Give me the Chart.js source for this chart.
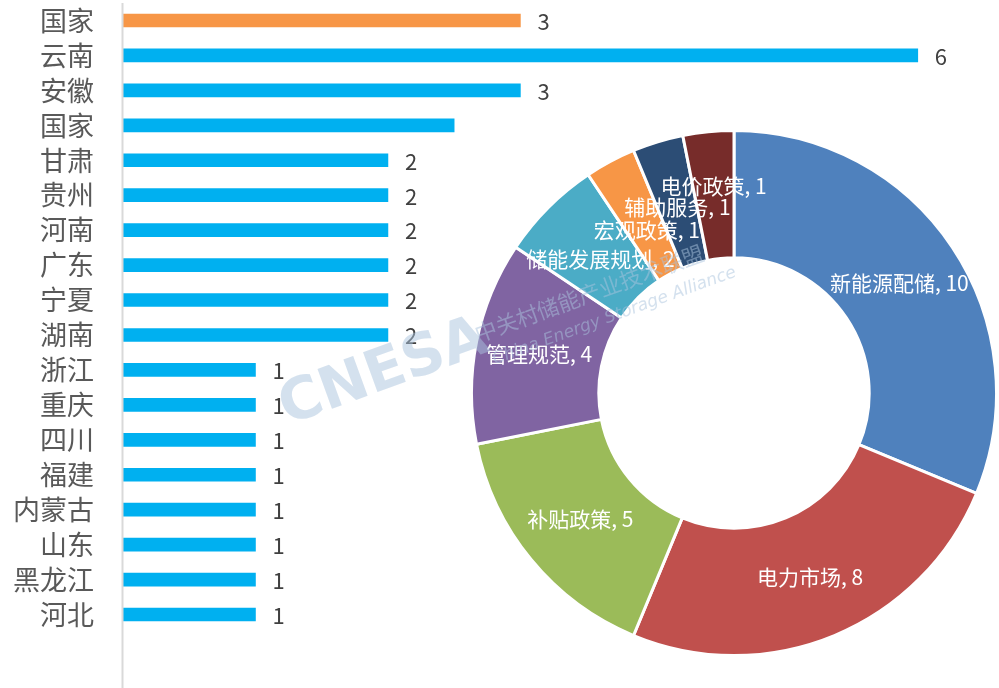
<!DOCTYPE html>
<html lang="zh">
  <head>
    <meta charset="UTF-8">
    <title>储能政策统计</title>
    <script src="https://cdn.jsdelivr.net/npm/chart.js"></script>
    <style>
      body { margin: 0; background: #fff; }
      .wrap { position: relative; width: 999px; height: 688px; }
      .wrap canvas { position: absolute; left: 0; top: 0; }
      #pieChart { pointer-events: none; }
    </style>
  </head>
  <body>
    <div class="wrap">
      <canvas id="barChart" width="999" height="688"></canvas>
      <canvas id="pieChart" width="999" height="688"></canvas>
    </div>
    <script>
      // 各省份政策数量
      const provincias = ['国家', '云南', '安徽', '国家', '甘肃', '贵州', '河南', '广东', '宁夏', '湖南',
                          '浙江', '重庆', '四川', '福建', '内蒙古', '山东', '黑龙江', '河北'];
      const cantidades = [3, 6, 3, 2.5, 2, 2, 2, 2, 2, 2, 1, 1, 1, 1, 1, 1, 1, 1];
      const etiquetas = ['3', '6', '3', '', '2', '2', '2', '2', '2', '2', '1', '1', '1', '1', '1', '1', '1', '1'];

      // 政策类型
      const tipos = ['新能源配储', '电力市场', '补贴政策', '管理规范', '储能发展规划', '宏观政策', '辅助服务', '电价政策'];
      const tiposValores = [10, 8, 5, 4, 2, 1, 1, 1];
      const tiposColores = ['#4F81BD', '#C0504D', '#9BBB59', '#8064A2', '#4BACC6', '#F79646', '#2C4D75', '#772C2A'];

      const fuente = '"Noto Sans CJK SC", "Noto Sans", sans-serif';
      const coloresBarra = cantidades.map((v, i) => i === 0 ? '#F79646' : '#00B0F0');

      const etiquetasBarra = {
        id: 'etiquetasBarra',
        afterDatasetsDraw(chart) {
          const ctx = chart.ctx;
          const meta = chart.getDatasetMeta(0);
          ctx.save();
          ctx.font = '22px ' + fuente;
          ctx.fillStyle = '#404040';
          ctx.textAlign = 'left';
          ctx.textBaseline = 'middle';
          meta.data.forEach((bar, i) => {
            if (etiquetas[i]) ctx.fillText(etiquetas[i], bar.x + 17, bar.y + 1);
          });
          // eje vertical
          ctx.strokeStyle = '#D9D9D9';
          ctx.lineWidth = 2;
          ctx.beginPath();
          ctx.moveTo(chart.chartArea.left - 0.5, 3);
          ctx.lineTo(chart.chartArea.left - 0.5, chart.height);
          ctx.stroke();
          ctx.restore();
        }
      };

      new Chart(document.getElementById('barChart'), {
        type: 'bar',
        data: {
          labels: provincias,
          datasets: [{
            data: cantidades,
            backgroundColor: coloresBarra,
            barThickness: 13
          }]
        },
        options: {
          indexAxis: 'y',
          responsive: false,
          animation: false,
          events: [],
          layout: { padding: { top: 3, bottom: 56, right: 15, left: 0 } },
          plugins: { legend: { display: false }, tooltip: { enabled: false } },
          scales: {
            x: { display: false, min: 0, max: 6.5 },
            y: {
              afterFit(scale) {
                scale.width = 123;
                scale.paddingTop = 0;
                scale.paddingBottom = 0;
              },
              grid: { display: false, drawTicks: false },
              border: { display: false },
              ticks: { color: '#595959', font: { family: fuente, size: 27 }, padding: 29, autoSkip: false }
            }
          }
        },
        plugins: [etiquetasBarra]
      });

      const ajusteRadial = [0, 0, 0, 0, -10, -14, -4, 9];

      const etiquetasAnillo = {
        id: 'etiquetasAnillo',
        afterDatasetsDraw(chart) {
          const ctx = chart.ctx;
          const meta = chart.getDatasetMeta(0);
          ctx.save();
          ctx.font = '21px ' + fuente;
          ctx.fillStyle = '#FFFFFF';
          ctx.textAlign = 'center';
          ctx.textBaseline = 'middle';
          meta.data.forEach((arc, i) => {
            const ang = (arc.startAngle + arc.endAngle) / 2;
            const r = (arc.innerRadius + arc.outerRadius) / 2 + ajusteRadial[i];
            ctx.fillText(tipos[i] + ', ' + tiposValores[i], arc.x + Math.cos(ang) * r, arc.y + Math.sin(ang) * r);
          });
          ctx.restore();
        },
        afterDraw(chart) {
          // marca de agua
          const ctx = chart.ctx;
          ctx.save();
          ctx.translate(287, 425);
          ctx.rotate(-20 * Math.PI / 180);
          ctx.fillStyle = 'rgba(170, 196, 222, 0.5)';
          ctx.font = 'bold 58px "DejaVu Sans", sans-serif';
          ctx.textBaseline = 'alphabetic';
          ctx.fillText('CNESA', 0, 0);
          ctx.font = '22px ' + fuente;
          ctx.fillText('中关村储能产业技术联盟', 208, -12);
          ctx.font = 'italic 17px "DejaVu Sans", sans-serif';
          ctx.fillText('China Energy Storage Alliance', 216, 14);
          ctx.restore();
        }
      };

      new Chart(document.getElementById('pieChart'), {
        type: 'doughnut',
        data: {
          labels: tipos,
          datasets: [{
            data: tiposValores,
            backgroundColor: tiposColores,
            borderColor: '#FFFFFF',
            borderWidth: 3,
            hoverOffset: 0
          }]
        },
        options: {
          responsive: false,
          animation: false,
          events: [],
          cutout: '51.5%',
          layout: { padding: { left: 470, right: 1, top: 129, bottom: 31 } },
          plugins: { legend: { display: false }, tooltip: { enabled: false } }
        },
        plugins: [etiquetasAnillo]
      });
    </script>
  </body>
</html>
